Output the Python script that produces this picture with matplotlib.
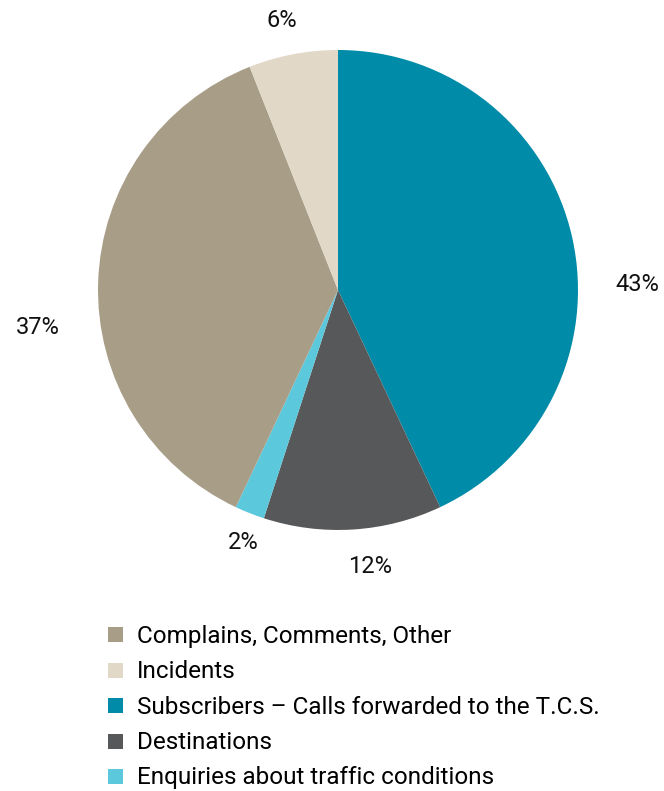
import numpy as np
import matplotlib
matplotlib.use('Agg')
import matplotlib.pyplot as plt
from matplotlib.lines import Line2D

# slices, clockwise from 12 o'clock
slice_names = ['Subscribers – Calls forwarded to the T.C.S.', 'Destinations',
               'Enquiries about traffic conditions', 'Complains, Comments, Other', 'Incidents']
slice_values = [43, 12, 2, 37, 6]
slice_colors = ['#008ba8', '#57585a', '#5bc8dc', '#a89d87', '#e1d8c8']

# legend order as shown under the pie
legend_order = [3, 4, 0, 1, 2]

# label nudges (degrees, radius) so text sits like the original
label_dangle = [-11.5, 3, 1, 9, 1]
label_radius = [1.246, 1.16, 1.125, 1.26, 1.146]

plt.rcParams['font.family'] = ['Roboto', 'DejaVu Sans']

fig = plt.figure(figsize=(6.64, 7.91), dpi=100)
ax = fig.add_axes([0.1476, 0.33, 0.7229, 0.6068])

wedges, _ = ax.pie(slice_values, colors=slice_colors, startangle=90,
                   counterclock=False, radius=1.0,
                   wedgeprops=dict(linewidth=0))
ax.set_xlim(-1, 1)
ax.set_ylim(-1, 1)
ax.set_aspect('equal')

for i, w in enumerate(wedges):
    ang = np.deg2rad((w.theta1 + w.theta2) / 2 + label_dangle[i])
    r = label_radius[i]
    ax.text(r * np.cos(ang), r * np.sin(ang), f'{slice_values[i]}%',
            ha='center', va='center', fontsize=17, color='#111111', clip_on=False)

handles = [Line2D([], [], marker='s', linestyle='none', markersize=10.8,
                  markerfacecolor=slice_colors[i], markeredgewidth=0)
           for i in legend_order]
labels = [slice_names[i] for i in legend_order]
fig.legend(handles, labels, loc='upper left', bbox_to_anchor=(0.158, 0.210),
           frameon=False, fontsize=17.5, handlelength=0.8, handletextpad=0.52,
           labelspacing=0.51, borderpad=0, borderaxespad=0)

fig.savefig('out.png', dpi=100)
